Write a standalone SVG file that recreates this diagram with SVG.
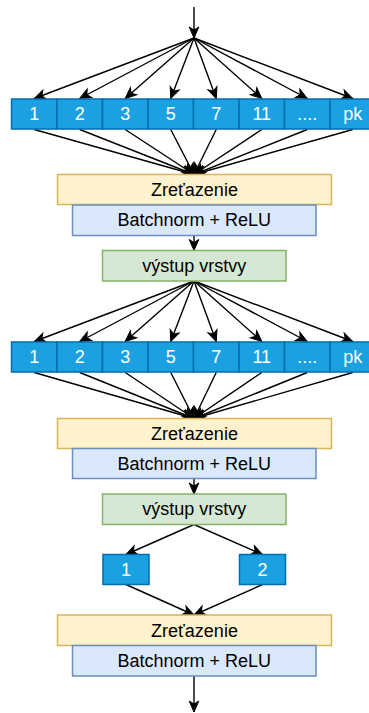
<svg xmlns="http://www.w3.org/2000/svg" width="369" height="713" viewBox="0 0 369 713">
<defs>
<marker id="arr" markerUnits="userSpaceOnUse" markerWidth="14" markerHeight="12" viewBox="-12 -6 14 12" refX="0" refY="0" orient="auto" overflow="visible">
<path d="M0,0 L-11,-4.8 L-8,0 L-11,4.8 Z" fill="#000" stroke="#000" stroke-width="1"/>
</marker>
<style>
.blue rect{fill:#1ba1e2;stroke:#006eaf;stroke-width:1.5}
.blue text{fill:#fff;font-family:"Liberation Sans",Arial,sans-serif;font-size:18px;text-anchor:middle}
.yel{fill:#fff2cc;stroke:#d6b656;stroke-width:1.5}
.bn{fill:#dae8fc;stroke:#6c8ebf;stroke-width:1.5}
.out{fill:#d5e8d4;stroke:#82b366;stroke-width:1.5}
.lbl{fill:#000;font-family:"Liberation Sans",Arial,sans-serif;font-size:18px;text-anchor:middle}
#connectors line{stroke:#000;stroke-width:1.4;fill:none;marker-end:url(#arr)}
</style>
</defs>
<rect width="369" height="713" fill="#fff"/>

<g id="connectors">
<line x1="194" y1="7" x2="194" y2="38"/>
<line x1="194" y1="38" x2="34.25" y2="98.5"/>
<line x1="194" y1="38" x2="79.75" y2="98.5"/>
<line x1="194" y1="38" x2="125.25" y2="98.5"/>
<line x1="194" y1="38" x2="170.75" y2="98.5"/>
<line x1="194" y1="38" x2="216.25" y2="98.5"/>
<line x1="194" y1="38" x2="261.75" y2="98.5"/>
<line x1="194" y1="38" x2="307.25" y2="98.5"/>
<line x1="194" y1="38" x2="352.75" y2="98.5"/>
<line x1="34.25" y1="129.5" x2="194" y2="174.5"/>
<line x1="79.75" y1="129.5" x2="194" y2="174.5"/>
<line x1="125.25" y1="129.5" x2="194" y2="174.5"/>
<line x1="170.75" y1="129.5" x2="194" y2="174.5"/>
<line x1="216.25" y1="129.5" x2="194" y2="174.5"/>
<line x1="261.75" y1="129.5" x2="194" y2="174.5"/>
<line x1="307.25" y1="129.5" x2="194" y2="174.5"/>
<line x1="352.75" y1="129.5" x2="194" y2="174.5"/>
<line x1="194" y1="235.5" x2="194" y2="250.5"/>
<line x1="194" y1="281" x2="34.25" y2="341.5"/>
<line x1="194" y1="281" x2="79.75" y2="341.5"/>
<line x1="194" y1="281" x2="125.25" y2="341.5"/>
<line x1="194" y1="281" x2="170.75" y2="341.5"/>
<line x1="194" y1="281" x2="216.25" y2="341.5"/>
<line x1="194" y1="281" x2="261.75" y2="341.5"/>
<line x1="194" y1="281" x2="307.25" y2="341.5"/>
<line x1="194" y1="281" x2="352.75" y2="341.5"/>
<line x1="34.25" y1="372.5" x2="194" y2="418.5"/>
<line x1="79.75" y1="372.5" x2="194" y2="418.5"/>
<line x1="125.25" y1="372.5" x2="194" y2="418.5"/>
<line x1="170.75" y1="372.5" x2="194" y2="418.5"/>
<line x1="216.25" y1="372.5" x2="194" y2="418.5"/>
<line x1="261.75" y1="372.5" x2="194" y2="418.5"/>
<line x1="307.25" y1="372.5" x2="194" y2="418.5"/>
<line x1="352.75" y1="372.5" x2="194" y2="418.5"/>
<line x1="194" y1="478.5" x2="194" y2="494"/>
<line x1="194" y1="524.5" x2="126" y2="554.5"/>
<line x1="194" y1="524.5" x2="262.5" y2="554.5"/>
<line x1="126" y1="584.5" x2="194" y2="615"/>
<line x1="262.5" y1="584.5" x2="194" y2="615"/>
<line x1="194" y1="676" x2="194" y2="712"/>
</g>

<g id="row1" class="blue">
<g id="r1-1"><rect x="11.5" y="99" width="45.5" height="30"/><text x="34.25" y="119.8">1</text></g>
<g id="r1-2"><rect x="57" y="99" width="45.5" height="30"/><text x="79.75" y="119.8">2</text></g>
<g id="r1-3"><rect x="102.5" y="99" width="45.5" height="30"/><text x="125.25" y="119.8">3</text></g>
<g id="r1-5"><rect x="148" y="99" width="45.5" height="30"/><text x="170.75" y="119.8">5</text></g>
<g id="r1-7"><rect x="193.5" y="99" width="45.5" height="30"/><text x="216.25" y="119.8">7</text></g>
<g id="r1-11"><rect x="239" y="99" width="45.5" height="30"/><text x="261.75" y="119.8">11</text></g>
<g id="r1-dots"><rect x="284.5" y="99" width="45.5" height="30"/><text x="307.25" y="119.8">....</text></g>
<g id="r1-pk"><rect x="330" y="99" width="45.5" height="30"/><text x="352.75" y="119.8">pk</text></g>
</g>

<g id="concat1"><rect class="yel" x="57.5" y="174.5" width="274" height="30"/><text class="lbl" x="194.5" y="195.7">Zreťazenie</text></g>
<g id="bn1"><rect class="bn" x="72.5" y="205" width="243.5" height="30.5"/><text class="lbl" x="194.25" y="226.3">Batchnorm + ReLU</text></g>
<g id="out1"><rect class="out" x="102.5" y="250.5" width="183.5" height="30.5"/><text class="lbl" x="194.25" y="271.5">výstup vrstvy</text></g>

<g id="row2" class="blue">
<g id="r2-1"><rect x="11.5" y="342" width="45.5" height="30"/><text x="34.25" y="362.8">1</text></g>
<g id="r2-2"><rect x="57" y="342" width="45.5" height="30"/><text x="79.75" y="362.8">2</text></g>
<g id="r2-3"><rect x="102.5" y="342" width="45.5" height="30"/><text x="125.25" y="362.8">3</text></g>
<g id="r2-5"><rect x="148" y="342" width="45.5" height="30"/><text x="170.75" y="362.8">5</text></g>
<g id="r2-7"><rect x="193.5" y="342" width="45.5" height="30"/><text x="216.25" y="362.8">7</text></g>
<g id="r2-11"><rect x="239" y="342" width="45.5" height="30"/><text x="261.75" y="362.8">11</text></g>
<g id="r2-dots"><rect x="284.5" y="342" width="45.5" height="30"/><text x="307.25" y="362.8">....</text></g>
<g id="r2-pk"><rect x="330" y="342" width="45.5" height="30"/><text x="352.75" y="362.8">pk</text></g>
</g>

<g id="concat2"><rect class="yel" x="57.5" y="418.5" width="274" height="30"/><text class="lbl" x="194.5" y="439.7">Zreťazenie</text></g>
<g id="bn2"><rect class="bn" x="72.5" y="448.5" width="243.5" height="30"/><text class="lbl" x="194.25" y="469.8">Batchnorm + ReLU</text></g>
<g id="out2"><rect class="out" x="102.5" y="494" width="183.5" height="30.5"/><text class="lbl" x="194.25" y="515">výstup vrstvy</text></g>

<g id="row3" class="blue">
<g id="r3-1"><rect x="103" y="554.5" width="46" height="30"/><text x="126" y="575.5">1</text></g>
<g id="r3-2"><rect x="239.5" y="554.5" width="46" height="30"/><text x="262.5" y="575.5">2</text></g>
</g>

<g id="concat3"><rect class="yel" x="57.5" y="615" width="274" height="30.5"/><text class="lbl" x="194.5" y="636.5">Zreťazenie</text></g>
<g id="bn3"><rect class="bn" x="72.5" y="645.5" width="243.5" height="30.5"/><text class="lbl" x="194.25" y="667">Batchnorm + ReLU</text></g>
</svg>
